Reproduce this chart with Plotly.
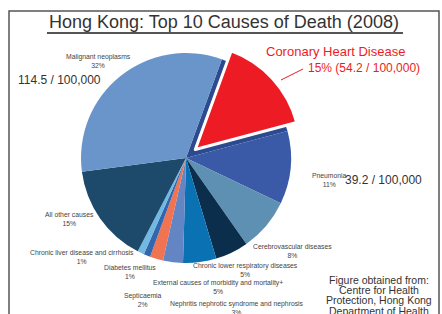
import plotly.graph_objects as go

W, H = 442, 314

causes = ["Coronary Heart Disease", "Pneumonia", "Cerebrovascular diseases",
          "Chronic lower respiratory diseases", "External causes of morbidity and mortality+",
          "Nephritis nephrotic syndrome and nephrosis", "Septicaemia", "Diabetes mellitus",
          "Chronic liver disease and cirrhosis", "All other causes", "Malignant neoplasms"]
percents = [15, 11, 8, 5, 5, 3, 2, 1, 1, 15, 32]
colors = ["#ed1c24", "#3a59a6", "#5e90b3", "#0b2e4c", "#0a72b3", "#6385c4",
          "#f07352", "#3266ad", "#71b9e3", "#1d4a6a", "#6a95cb"]
pulls = [0.12, 0, 0, 0, 0, 0, 0, 0, 0, 0, 0]
rates = {"Malignant neoplasms": "114.5 / 100,000",
         "Coronary Heart Disease": "54.2 / 100,000",
         "Pneumonia": "39.2 / 100,000"}
source_lines = ["Figure obtained from:", "Centre for Health",
                "Protection, Hong Kong", "Department of Health"]

def px(x, y):
    return x / W, 1 - y / H

dom_x = [68.4 / W, 303.6 / W]
dom_y = [1 - 275.6 / H, 1 - 40.4 / H]

fig = go.Figure()
slot_colors = ["#2b4a8f"] + ["rgba(0,0,0,0)"] * (len(causes) - 1)
fig.add_trace(go.Pie(values=percents, labels=causes, sort=False, direction="clockwise",
                     rotation=20, marker=dict(colors=slot_colors, line=dict(width=0)),
                     pull=[0] * (len(causes) - 1) + [0.12], textinfo="none",
                     hoverinfo="skip", showlegend=False,
                     domain=dict(x=dom_x, y=dom_y)))
line_w = [3] + [0] * (len(causes) - 1)
fig.add_trace(go.Pie(values=percents, labels=causes, sort=False, direction="clockwise",
                     rotation=20, marker=dict(colors=colors, line=dict(width=line_w, color="white")),
                     pull=pulls, textinfo="none", showlegend=False,
                     domain=dict(x=dom_x, y=dom_y)))

FONT = "Liberation Sans, Arial, sans-serif"
small = dict(family=FONT, size=6.8, color="#444")
label_pos = {
    "Malignant neoplasms": (98, 61),
    "Pneumonia": (329, 180),
    "Cerebrovascular diseases": (292, 251),
    "Chronic lower respiratory diseases": (245, 270),
    "External causes of morbidity and mortality+": (218, 287),
    "Nephritis nephrotic syndrome and nephrosis": (237, 308),
    "Septicaemia": (143, 300),
    "Diabetes mellitus": (130, 272),
    "Chronic liver disease and cirrhosis": (82, 257),
    "All other causes": (69, 219),
}
ann = []

def add_text(pos, text, font, xanchor="center"):
    x, y = px(*pos)
    ann.append(dict(x=x, y=y, xref="paper", yref="paper", showarrow=False,
                    xanchor=xanchor, yanchor="middle", text=text, font=font,
                    align="center"))

for c, p in zip(causes, percents):
    if c in label_pos:
        add_text(label_pos[c], f"{c}<br>{p}%", small)

big = dict(family=FONT, size=12, color="#333")
add_text((60, 80), rates["Malignant neoplasms"], big)
add_text((383, 180), rates["Pneumonia"], big)
add_text((335, 52), causes[0], dict(family=FONT, size=13, color="#ed1c24"))
add_text((306, 68), f"{percents[0]}% ({rates[causes[0]]})",
         dict(family=FONT, size=12, color="#ed1c24"), xanchor="left")
for i, line in enumerate(source_lines):
    add_text((379, 279.5 + i * 10.4), line, dict(family=FONT, size=10.5, color="#333"))
add_text((224, 22), "Hong Kong: Top 10 Causes of Death (2008)", dict(family=FONT, size=18, color="#333"))

shapes = []
x0, y0 = px(9, 11); x1, y1 = px(439, 330)
shapes.append(dict(type="rect", xref="paper", yref="paper", x0=x0, y0=y0, x1=x1, y1=y1,
                   line=dict(color="#555", width=1.5)))
x0, y0 = px(47, 33); x1, y1 = px(403, 33)
shapes.append(dict(type="line", xref="paper", yref="paper", x0=x0, y0=y0, x1=x1, y1=y1,
                   line=dict(color="#555", width=2)))
x0, y0 = px(281, 80); x1, y1 = px(303, 69)
shapes.append(dict(type="line", xref="paper", yref="paper", x0=x0, y0=y0, x1=x1, y1=y1,
                   line=dict(color="#ed1c24", width=1)))

fig.update_layout(width=W, height=H, margin=dict(l=0, r=0, t=0, b=0),
                  paper_bgcolor="white", plot_bgcolor="white",
                  annotations=ann, shapes=shapes, showlegend=False)
fig.write_html("out.html", config={"displayModeBar": False},
               post_script="document.body.style.margin='0';document.body.style.overflow='hidden';")
